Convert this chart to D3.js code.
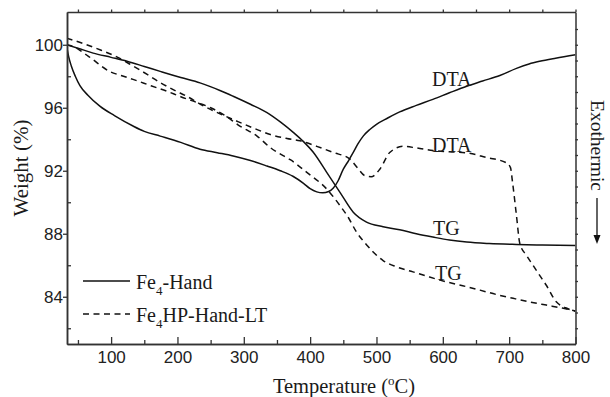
<!DOCTYPE html>
<html>
<head>
<meta charset="utf-8">
<script src="https://cdn.jsdelivr.net/npm/d3@7"></script>
<style>
  body { margin: 0; background: #fff; }
  svg { display: block; }
  .tick text { font-family: "Liberation Sans", Arial, sans-serif; font-size: 17px; fill: #222; }
  .serif { font-family: "Liberation Serif", "Times New Roman", serif; fill: #1a1a1a; }
</style>
</head>
<body>
<svg width="610" height="397"></svg>
<script>
// ticks
const xMajor = [100, 200, 300, 400, 500, 600, 700, 800];
const xMinor = [50, 150, 250, 350, 450, 550, 650, 750];
const yMajor = [84, 88, 92, 96, 100];
const yMinor = [82, 86, 90, 94, 98];
const yRight = d3.range(82, 102, 1);

// Fe4-Hand, solid
const handTG = [[33,100],[50,99.78],[73,99.47],[100,99.2],[124,98.95],[150,98.62],[174,98.31],[205,97.92],
  [234,97.58],[264,97.1],[284,96.73],[310,96.22],[335,95.69],[355,95.1],[375,94.42],[390,93.85],
  [405,93.16],[425,91.9],[445,90.63],[465,89.37],[485,88.74],[510,88.45],[535,88.25],[560,88.0],
  [585,87.79],[610,87.6],[636,87.47],[670,87.38],[711,87.32],[750,87.28],[800,87.25]];
const handDTA = [[33,99.9],[36,99.25],[40,98.65],[46,98.0],[53,97.4],[65,96.8],[83,96.1],[105,95.5],
  [133,94.84],[150,94.5],[174,94.2],[205,93.8],[234,93.37],[260,93.15],[284,92.94],[310,92.65],
  [335,92.3],[355,92.0],[374,91.65],[390,91.2],[400,90.86],[410,90.66],[419,90.6],[428,90.68],
  [435,90.9],[442,91.35],[450,92.1],[458,92.65],[465,93.16],[472,93.7],[480,94.2],[490,94.62],
  [500,94.95],[517,95.35],[535,95.74],[560,96.15],[585,96.53],[610,96.95],[636,97.37],[660,97.7],
  [686,98.05],[711,98.5],[730,98.78],[746,98.95],[770,99.15],[800,99.37]];

// Fe4HP-Hand-LT, dashed
const hpDTA = [[33,100.42],[60,100.05],[85,99.65],[110,99.2],[133,98.65],[155,98.1],[174,97.6],
  [195,97.12],[214,96.73],[240,96.1],[265,95.6],[289,95.16],[315,94.7],[340,94.3],[365,94.05],
  [385,93.9],[410,93.55],[435,93.16],[460,92.74],[472,92.15],[482,91.7],[492,91.62],[505,92.1],
  [520,93.16],[540,93.55],[560,93.45],[585,93.28],[610,93.2],[636,93.14],[666,92.84],[696,92.5],
  [702,92.2],[705,91.3],[711,89.16],[716,87.4],[726,86.63],[736,86.0],[746,85.36],[756,84.73],
  [771,83.68],[785,83.3],[800,83.08]];
const hpTG = [[33,100],[45,99.85],[53,99.65],[63,99.35],[73,99.05],[85,98.65],[98,98.3],[115,98.05],
  [133,97.8],[160,97.4],[184,97.05],[205,96.7],[229,96.34],[250,96.0],[270,95.55],[294,94.84],
  [320,94.2],[340,93.47],[360,92.94],[370,92.7],[395,91.9],[425,90.84],[445,89.79],[458,89.0],
  [470,88.1],[483,87.4],[495,86.84],[510,86.3],[530,85.9],[555,85.58],[580,85.25],[605,84.95],
  [630,84.7],[656,84.42],[680,84.15],[706,83.9],[730,83.68],[756,83.47],[780,83.28],[800,83.1]];

const svg = d3.select("svg");
const m = { left: 67, right: 575.5, top: 12, bottom: 344 };

const x = d3.scaleLinear().domain([33.5, 800]).range([m.left, m.right]);
const y = d3.scaleLinear().domain([81, 102.08]).range([m.bottom, m.top]);

const line = d3.line()
  .curve(d3.curveMonotoneX)
  .x(d => x(d[0]))
  .y(d => y(d[1]));

svg.append("defs").append("clipPath").attr("id", "clip")
  .append("rect").attr("x", m.left).attr("y", m.top)
  .attr("width", m.right - m.left).attr("height", m.bottom - m.top);

const curves = svg.append("g").attr("clip-path", "url(#clip)")
  .attr("fill", "none").attr("stroke", "#111").attr("stroke-width", 1.5);
[handTG, handDTA].forEach(s => curves.append("path").attr("d", line(s)));
[hpDTA, hpTG].forEach(s => curves.append("path").attr("d", line(s)).attr("stroke-dasharray", "6,4.5"));

// axes
function style(g) {
  g.select(".domain").attr("stroke", "#333").attr("stroke-width", 1.5);
  g.selectAll(".tick line").attr("stroke", "#333").attr("stroke-width", 1.3);
}
svg.append("g").attr("transform", `translate(0,${m.bottom})`)
  .call(d3.axisBottom(x).tickValues(xMajor).tickSize(-7).tickPadding(7).tickSizeOuter(0))
  .call(style);
svg.append("g").attr("transform", `translate(0,${m.bottom})`)
  .call(d3.axisBottom(x).tickValues(xMinor).tickSize(-4).tickFormat("").tickSizeOuter(0))
  .call(style);
svg.append("g").attr("transform", `translate(0,${m.top})`)
  .call(d3.axisTop(x).tickValues(xMajor.concat(xMinor)).tickSize(2.5).tickFormat("").tickSizeOuter(0))
  .call(style);
svg.append("g").attr("transform", `translate(${m.left},0)`)
  .call(d3.axisLeft(y).tickValues(yMajor).tickSize(4).tickPadding(0).tickSizeOuter(0))
  .call(style);
svg.append("g").attr("transform", `translate(${m.left},0)`)
  .call(d3.axisLeft(y).tickValues(yMinor).tickSize(-4).tickFormat("").tickSizeOuter(0))
  .call(style);
svg.append("g").attr("transform", `translate(${m.right},0)`)
  .call(d3.axisRight(y).tickValues(yRight).tickSize(2.5).tickFormat("").tickSizeOuter(0))
  .call(style);

// titles
svg.append("text").attr("class", "serif").attr("font-size", 20.5)
  .attr("x", 344).attr("y", 393).attr("text-anchor", "middle")
  .call(t => {
    t.append("tspan").text("Temperature (");
    t.append("tspan").attr("font-size", 13).attr("dy", -8).text("o");
    t.append("tspan").attr("dy", 8).text("C)");
  });
svg.append("text").attr("class", "serif").attr("font-size", 21)
  .attr("transform", "translate(28,168) rotate(-90)").attr("text-anchor", "middle")
  .text("Weight (%)");
svg.append("text").attr("class", "serif").attr("font-size", 19.5)
  .attr("transform", "translate(591,100) rotate(90)")
  .text("Exothermic");
svg.append("line").attr("x1", 597).attr("x2", 597).attr("y1", 198).attr("y2", 236)
  .attr("stroke", "#111").attr("stroke-width", 1.3);
svg.append("path").attr("d", "M593.5,235 L600.5,235 L597,244 Z").attr("fill", "#111");

// curve labels
const labels = [["DTA", 432, 86], ["DTA", 432, 152], ["TG", 433, 235], ["TG", 435, 280]];
labels.forEach(([s, lx, ly]) =>
  svg.append("text").attr("class", "serif").attr("font-size", 20).attr("x", lx).attr("y", ly).text(s));

// legend
const legend = [["Fe", "4", "-Hand", null], ["Fe", "4", "HP-Hand-LT", "6,4.5"]];
legend.forEach(([a, sub, b, dash], i) => {
  const ly = 281 + i * 33;
  svg.append("line").attr("x1", 83).attr("x2", 130).attr("y1", ly).attr("y2", ly)
    .attr("stroke", "#111").attr("stroke-width", 1.5).attr("stroke-dasharray", dash);
  svg.append("text").attr("class", "serif").attr("font-size", 20).attr("x", 136).attr("y", ly + 8)
    .call(t => {
      t.append("tspan").text(a);
      t.append("tspan").attr("font-size", 13).attr("dy", 6).text(sub);
      t.append("tspan").attr("dy", -6).text(b);
    });
});
</script>
</body>
</html>
